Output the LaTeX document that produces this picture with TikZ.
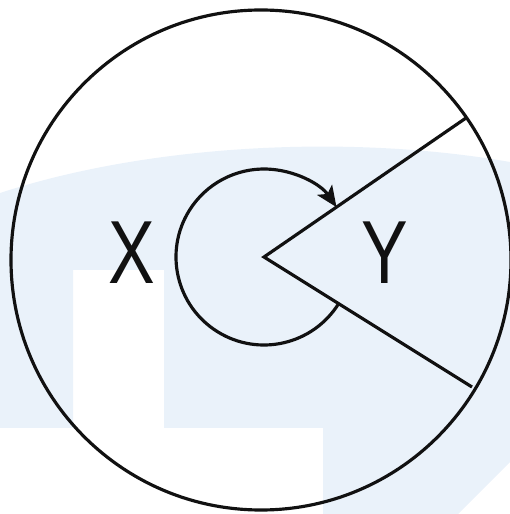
\documentclass[tikz,border=0pt]{standalone}
\usepackage{fontspec}
\setmainfont{Liberation Sans}
\usetikzlibrary{arrows.meta, calc}
\definecolor{InkBlack}{HTML}{111111}
\definecolor{MarkBlue}{HTML}{EAF2FA}

\begin{document}
\begin{tikzpicture}[
  x=0.2mm, y=0.2mm,
  rim/.style={draw=InkBlack, line width=1.8pt},
  ray/.style={draw=InkBlack, line width=1.8pt, line join=miter},
  turn/.style={draw=InkBlack, line width=1.8pt, -{Stealth[length=4.2mm, width=3.6mm, inset=1mm]}},
  letter/.style={inner sep=0pt, font=\fontsize{51}{51}\selectfont, text=InkBlack}
]
  \useasboundingbox (0,0) rectangle (510,514);

  % light backdrop band
  \fill[MarkBlue] (0,321) .. controls (150,370) and (350,380) .. (510,352)
    -- (510,52) -- (458,0) -- (323,0) -- (323,86) -- (164,86) -- (164,244)
    -- (73,244) -- (73,86) -- (0,86) -- cycle;

  \coordinate (ctr) at (261,254);
  \coordinate (apex) at (264,257);
  \coordinate (upend) at (466,396);
  \coordinate (lowend) at (472,127);

  \draw[rim] (ctr) circle[radius=250];
  \draw[ray] (upend) -- (apex) -- (lowend);
  \draw[turn] ($(apex)+(-32:88)$) arc[start angle=-32, end angle=-325.5, radius=88];

  \node[letter] (labx) at (132,261) {\scalebox{0.78}[1]{X}};
  \node[letter] (laby) at (385,261) {\scalebox{0.78}[1]{Y}};
\end{tikzpicture}
\end{document}
